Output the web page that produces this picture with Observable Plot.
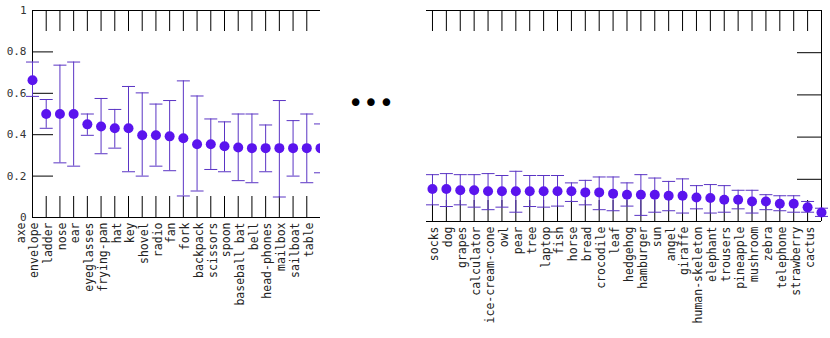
<!DOCTYPE html>
<html>
<head>
<meta charset="utf-8">
<script src="https://cdn.jsdelivr.net/npm/d3@7"></script>
<script src="https://cdn.jsdelivr.net/npm/@observablehq/plot@0.6"></script>
<style>
  body { margin: 0; background: #fff; }
  #wrap { position: relative; width: 830px; height: 338px; overflow: hidden; background: #fff; }
  #left { position: absolute; left: 0; top: 0; }
  #right { position: absolute; left: 426px; top: 0; }
  #dots { position: absolute; left: 348px; top: 90px; font: 26px/26px "DejaVu Sans"; color: #000; white-space: pre; }
</style>
</head>
<body>
<div id="wrap">
  <div id="left"></div>
  <div id="dots">•••</div>
  <div id="right"></div>
</div>
<script>
// ---- data ----
const leftCategories = ["axe","envelope","ladder","nose","ear","eyeglasses","frying-pan","hat","key","shovel","radio","fan","fork","backpack","scissors","spoon","baseball bat","bell","head-phones","mailbox","sailboat","table"];
const leftMean = [0.663,0.5,0.5,0.5,0.45,0.44,0.431,0.431,0.397,0.397,0.392,0.383,0.354,0.354,0.344,0.338,0.335,0.335,0.335,0.335,0.335,0.335];
const leftLow  = [0.585,0.431,0.264,0.248,0.397,0.308,0.335,0.221,0.2,0.248,0.226,0.104,0.128,0.232,0.221,0.178,0.168,0.221,0.099,0.2,0.168,0.216];
const leftHigh = [0.751,0.57,0.736,0.751,0.5,0.575,0.522,0.633,0.602,0.548,0.565,0.66,0.587,0.476,0.462,0.5,0.5,0.447,0.565,0.468,0.5,0.452];

const rightCategories = ["","socks","dog","grapes","calculator","ice-cream-cone","owl","pear","tree","laptop","fish","horse","bread","crocodile","leaf","hedgehog","hamburger","sun","angel","giraffe","human-skeleton","elephant","trousers","pineapple","mushroom","zebra","telephone","strawberry","cactus"];
const rightMean = [0.154,0.154,0.148,0.148,0.143,0.143,0.143,0.143,0.143,0.143,0.143,0.138,0.138,0.132,0.127,0.127,0.127,0.122,0.122,0.114,0.111,0.103,0.103,0.095,0.095,0.084,0.084,0.067,0.043];
const rightLow  = [0.079,0.071,0.079,0.068,0.056,0.068,0.044,0.071,0.068,0.073,0.095,0.079,0.056,0.051,0.073,0.029,0.044,0.051,0.040,0.060,0.040,0.044,0.060,0.040,0.056,0.051,0.044,0.044,0.024];
const rightHigh = [0.222,0.227,0.222,0.222,0.227,0.218,0.238,0.218,0.218,0.218,0.183,0.195,0.211,0.211,0.183,0.222,0.206,0.190,0.202,0.170,0.175,0.170,0.148,0.148,0.127,0.122,0.122,0.095,0.063];

const yTicks = [0, 0.2, 0.4, 0.6, 0.8, 1];
const yTickLabels = ["0", "0.2", "0.4", "0.6", "0.8", "1"];
const yInnerTicks = [0.2, 0.4, 0.6, 0.8];

// ---- styles ----
const pointColor = "#5a14ee";
const barColor = "#5a34c4";
const capSymbol = {
  draw(ctx, size) {
    const r = Math.sqrt(size / Math.PI);
    ctx.moveTo(-r, 0);
    ctx.lineTo(r, 0);
  }
};

function rows(cats, mean, low, high) {
  return cats.map((c, i) => ({i, c, m: mean[i], lo: low[i], hi: high[i]}));
}

function panel({cats, mean, low, high, width, height, mL, mR, mT, mB, xDomain, yAxisSide}) {
  const data = rows(cats, mean, low, high);
  const fw = width - mL - mR;
  const fh = height - mT - mB;
  const idx = cats.map((c, i) => i);
  const marks = [
    // long category ticks from bottom and from top
    Plot.tickX(idx, {x: d => d, insetTop: fh - 21, stroke: "#000", strokeWidth: 1}),
    Plot.tickX(idx, {x: d => d, insetBottom: fh - 21, stroke: "#000", strokeWidth: 1}),
    // inner y ticks
    Plot.tickY(yInnerTicks, yAxisSide === "left"
      ? {y: d => d, insetRight: fw - 21, stroke: "#000"}
      : {y: d => d, insetLeft: fw - 24, stroke: "#000"}),
    // borders
    Plot.ruleY([0, 1], {stroke: "#000"}),
    yAxisSide === "left" ? Plot.ruleX([xDomain[0]], {stroke: "#000"}) : Plot.ruleX([xDomain[1]], {stroke: "#000"}),
    // error bars
    Plot.ruleX(data, {x: "i", y1: "lo", y2: "hi", stroke: barColor, strokeWidth: 1}),
    Plot.dot(data, {x: "i", y: "lo", symbol: capSymbol, r: 6.5, fill: "none", stroke: barColor, strokeWidth: 1}),
    Plot.dot(data, {x: "i", y: "hi", symbol: capSymbol, r: 6.5, fill: "none", stroke: barColor, strokeWidth: 1}),
    // points
    Plot.dot(data, {x: "i", y: "m", r: 5, fill: pointColor, stroke: "none"}),
    // category labels
    Plot.text(data, {x: "i", text: "c", frameAnchor: "bottom", rotate: -90, textAnchor: "end",
      dy: 5, dx: -8, fontSize: 11.5, fontFamily: "DejaVu Sans Mono", fill: "#222"})
  ];
  if (yAxisSide === "left") {
    marks.push(Plot.text(yTicks, {y: d => d, text: (d, i) => yTickLabels[i], frameAnchor: "left",
      textAnchor: "end", dx: -6, fontSize: 11, fontFamily: "DejaVu Sans Mono", fill: "#333"}));
  }
  return Plot.plot({
    width, height,
    marginLeft: mL, marginRight: mR, marginTop: mT, marginBottom: mB,
    x: {type: "linear", domain: xDomain, axis: null},
    y: {domain: [0, 1], axis: null},
    style: {background: "white", overflow: "hidden"},
    marks
  });
}

document.getElementById("left").append(panel({
  cats: leftCategories, mean: leftMean, low: leftLow, high: leftHigh,
  width: 320, height: 338, mL: 32, mR: 0, mT: 10, mB: 121,
  xDomain: [0, leftCategories.length - 1], yAxisSide: "left"
}));

document.getElementById("right").append(panel({
  cats: rightCategories, mean: rightMean, low: rightLow, high: rightHigh,
  width: 404, height: 338, mL: 0, mR: 9, mT: 10, mB: 117,
  xDomain: [-0.43, rightCategories.length - 1], yAxisSide: "right"
}));
</script>
</body>
</html>
